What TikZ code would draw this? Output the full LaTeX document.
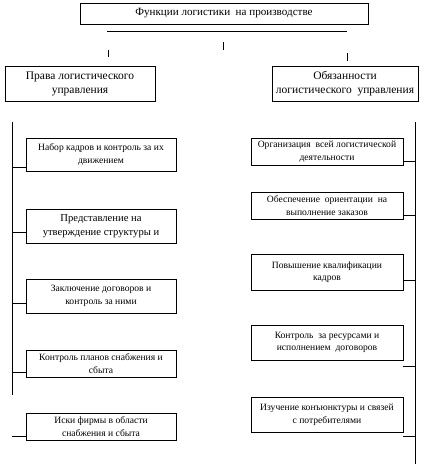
\documentclass[tikz,border=0pt]{standalone}
\usepackage{fontspec}
\setmainfont{Liberation Serif}
\begin{document}
\begin{tikzpicture}[x=1pt,y=-1pt,
  box/.style={draw, line width=0.8pt, inner sep=0pt, align=center},
  small/.style={font=\fontsize{9.6}{12.5}\selectfont},
  big/.style={font=\fontsize{11.5}{14}\selectfont},
  topf/.style={font=\fontsize{11.1}{14}\selectfont},
  huge/.style={font=\fontsize{10.6}{14}\selectfont},
  ln/.style={line width=0.8pt}]
\useasboundingbox (0,0) rectangle (422,464);
% top
\node[box, topf, minimum width=288pt, minimum height=21pt] (top) at (224,13.5) {Функции логистики\ \ на производстве};
\coordinate (hl) at (107,31); \coordinate (hr) at (347,31);
\draw[ln] (hl) -- (hr);
\coordinate (t1a) at (223,42); \coordinate (t1b) at (223,50);
\coordinate (t2a) at (108,50); \coordinate (t2b) at (108,57);
\coordinate (t3a) at (347,53); \coordinate (t3b) at (347,61);
\draw[ln] (t1a) -- (t1b);
\draw[ln] (t2a) -- (t2b);
\draw[ln] (t3a) -- (t3b);
% headers
\node[box, big, minimum width=150pt, minimum height=35pt] (lh) at (80,83.5) {Права логистического\\управления};
\node[box, big, minimum width=146pt, minimum height=35pt] (rh) at (345,83.5) {Обязанности\\логистического\ \ управления};
% left boxes
\node[box, small, minimum width=150pt, minimum height=33pt] (l1) at (101,154.5) {Набор кадров и контроль за их\\движением};
\node[box, huge, minimum width=150pt, minimum height=34pt] (l2) at (101,226) {Представление на\\утверждение структуры и};
\node[box, small, minimum width=150pt, minimum height=34pt] (l3) at (101,296) {Заключение договоров и\\контроль за ними};
\node[box, small, minimum width=150pt, minimum height=27pt] (l4) at (101,363.5) {Контроль планов снабжения и\\сбыта};
\node[box, small, minimum width=150pt, minimum height=27pt] (l5) at (101,426.5) {Иски фирмы в области\\снабжения и сбыта};
% right boxes
\node[box, small, minimum width=152pt, minimum height=27pt] (r1) at (327,151.5) {Организация\ \ всей логистической\\деятельности};
\node[box, small, minimum width=152pt, minimum height=27pt] (r2) at (327,205.5) {Обеспечение\ \ ориентации\ \ на\\выполнение заказов};
\node[box, small, minimum width=152pt, minimum height=36pt] (r3) at (327,272) {Повышение квалификации\\кадров};
\node[box, small, minimum width=152pt, minimum height=35pt] (r4) at (327,342.5) {Контроль\ \ за ресурсами и\\исполнением\ \ договоров};
\node[box, small, minimum width=152pt, minimum height=35pt] (r5) at (327,414.5) {Изучение конъюнктуры и связей\\с потребителями};
% left spine
\coordinate (ls1) at (12,122); \coordinate (ls2) at (12,395);
\draw[ln] (ls1) -- (ls2);
\coordinate (lc1) at (12,167); \coordinate (lc2) at (12,232);
\coordinate (lc3) at (12,303); \coordinate (lc4) at (12,372);
\coordinate (lc5) at (12,436);
\foreach \c/\b in {lc1/l1,lc2/l2,lc3/l3,lc4/l4,lc5/l5}
  \draw[ln] (\c) -- (\b.west |- \c);
% right spine
\coordinate (rs1) at (415,122); \coordinate (rs2) at (415,464);
\draw[ln] (rs1) -- (rs2);
\coordinate (rc1) at (415,161); \coordinate (rc2) at (415,215);
\coordinate (rc3) at (415,280); \coordinate (rc4) at (415,366);
\coordinate (rc5) at (415,436);
\foreach \c/\b in {rc1/r1,rc2/r2,rc3/r3,rc4/r4,rc5/r5}
  \draw[ln] (\c) -- (\b.east |- \c);
\end{tikzpicture}
\end{document}
